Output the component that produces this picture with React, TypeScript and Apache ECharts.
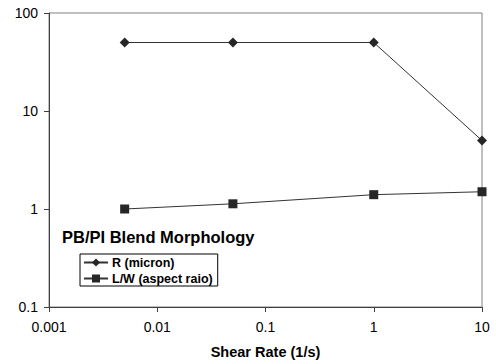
import React, { useEffect, useRef } from "react";
import * as echarts from "echarts";

const shearRates = [0.005, 0.05, 1, 10];
const rMicron = [50, 50, 50, 5];
const aspectRatio = [1, 1.13, 1.4, 1.5];
const xTickLabels: Record<string, string> = { "0.001": "0.001", "0.01": "0.01", "0.1": "0.1", "1": "1", "10": "10" };
const yTickLabels: Record<string, string> = { "0.1": "0.1", "1": "1", "10": "10", "100": "100" };

function fmt(map: Record<string, string>) {
  return (v: number) => {
    const k = String(parseFloat(v.toPrecision(6)));
    return map[k] ?? k;
  };
}

export default function App() {
  const ref = useRef<HTMLDivElement>(null);
  useEffect(() => {
    const chart = echarts.init(ref.current!, undefined, { renderer: "svg" });
    const font = "Liberation Sans, Arial, sans-serif";
    chart.setOption({
      animation: false,
      backgroundColor: "#fff",
      textStyle: { fontFamily: font },
      grid: { left: 49, right: 14, top: 13, bottom: 56, show: true, borderColor: "#808080", borderWidth: 1 },
      title: {
        text: "PB/PI Blend Morphology",
        left: 62,
        top: 228,
        padding: 0,
        textStyle: { fontSize: 16.5, fontWeight: "bold", color: "#000", fontFamily: font },
      },
      legend: {
        orient: "vertical",
        left: 80,
        top: 254,
        borderColor: "#000",
        borderWidth: 1,
        borderRadius: 0,
        padding: [2, 5, 1, 3],
        itemGap: 3,
        itemWidth: 24,
        itemHeight: 10,
        textStyle: { fontSize: 12.5, fontWeight: "bold", color: "#000", fontFamily: font, padding: [0, 0, 0, -1] },
        data: ["R (micron)", "L/W (aspect raio)"],
      },
      xAxis: {
        type: "log",
        logBase: 10,
        min: 0.001,
        max: 10,
        name: "Shear Rate (1/s)",
        nameLocation: "middle",
        nameGap: 37,
        nameTextStyle: { fontSize: 14.5, fontWeight: "bold", color: "#000", fontFamily: font },
        axisLine: { lineStyle: { color: "#404040", width: 1 } },
        axisTick: { show: true, length: 5, lineStyle: { color: "#404040" } },
        axisLabel: { fontSize: 14, color: "#000", margin: 13, formatter: fmt(xTickLabels) },
        splitLine: { show: false },
        minorTick: { show: false },
      },
      yAxis: {
        type: "log",
        logBase: 10,
        min: 0.1,
        max: 100,
        axisLine: { show: true, lineStyle: { color: "#404040", width: 1 } },
        axisTick: { show: true, length: 5, lineStyle: { color: "#404040" } },
        axisLabel: { fontSize: 14, color: "#000", margin: 11, formatter: fmt(yTickLabels) },
        splitLine: { show: false },
      },
      series: [
        {
          name: "R (micron)",
          type: "line",
          data: shearRates.map((x, i) => [x, rMicron[i]]),
          symbol: "diamond",
          symbolSize: 10,
          itemStyle: { color: "#262626" },
          lineStyle: { color: "#333", width: 1 },
        },
        {
          name: "L/W (aspect raio)",
          type: "line",
          data: shearRates.map((x, i) => [x, aspectRatio[i]]),
          symbol: "rect",
          symbolSize: 9,
          itemStyle: { color: "#262626" },
          lineStyle: { color: "#333", width: 1 },
        },
      ],
    });
    return () => chart.dispose();
  }, []);
  return <div ref={ref} style={{ width: 496, height: 364, position: "absolute", left: 0, top: 0 }} />;
}
